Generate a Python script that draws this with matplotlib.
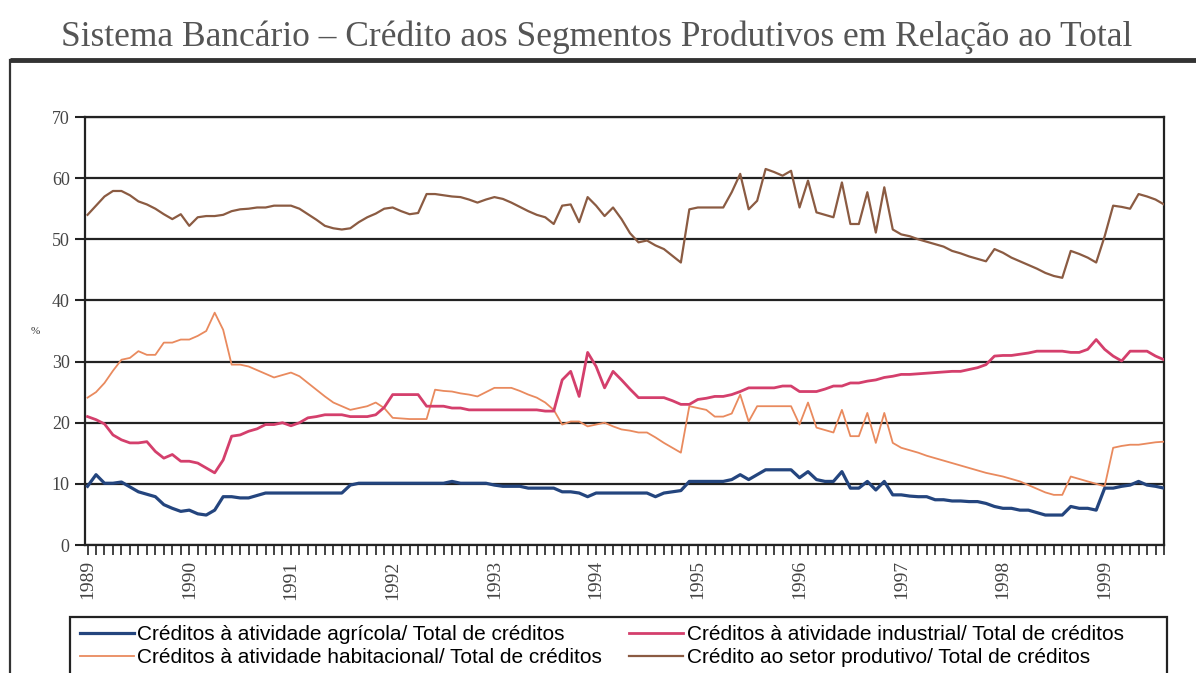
import numpy as np
import matplotlib.pyplot as plt
from matplotlib.lines import Line2D
from matplotlib.patches import Rectangle

agricola = [
    9.6, 11.5, 10.1, 10.1, 10.3, 9.5, 8.7, 8.3, 7.9, 6.6, 6.0, 5.5,
    5.7, 5.1, 4.9, 5.7, 7.9, 7.9, 7.7, 7.7, 8.1, 8.5, 8.5, 8.5,
    8.5, 8.5, 8.5, 8.5, 8.5, 8.5, 8.5, 9.8, 10.1, 10.1, 10.1, 10.1,
    10.1, 10.1, 10.1, 10.1, 10.1, 10.1, 10.1, 10.4, 10.1, 10.1, 10.1, 10.1,
    9.8, 9.6, 9.6, 9.6, 9.3, 9.3, 9.3, 9.3, 8.7, 8.7, 8.5, 7.9,
    8.5, 8.5, 8.5, 8.5, 8.5, 8.5, 8.5, 7.9, 8.5, 8.7, 8.9, 10.4,
    10.4, 10.4, 10.4, 10.4, 10.7, 11.5, 10.7, 11.5, 12.3, 12.3, 12.3, 12.3,
    11.0, 12.0, 10.7, 10.4, 10.4, 12.0, 9.3, 9.3, 10.4, 9.0, 10.4, 8.2,
    8.2, 8.0, 7.9, 7.9, 7.4, 7.4, 7.2, 7.2, 7.1, 7.1, 6.8, 6.3,
    6.0, 6.0, 5.7, 5.7, 5.3, 4.9, 4.9, 4.9, 6.3, 6.0, 6.0, 5.7,
    9.3, 9.3, 9.6, 9.8, 10.4, 9.8, 9.6, 9.3,
]
industrial = [
    21.0, 20.5, 19.8, 18.0, 17.2, 16.7, 16.7, 16.9, 15.3, 14.2, 14.8, 13.7,
    13.7, 13.4, 12.6, 11.8, 13.9, 17.8, 18.0, 18.6, 19.0, 19.7, 19.7, 20.0,
    19.5, 20.0, 20.8, 21.0, 21.3, 21.3, 21.3, 21.0, 21.0, 21.0, 21.3, 22.5,
    24.6, 24.6, 24.6, 24.6, 22.7, 22.7, 22.7, 22.4, 22.4, 22.1, 22.1, 22.1,
    22.1, 22.1, 22.1, 22.1, 22.1, 22.1, 21.9, 21.9, 27.0, 28.4, 24.3, 31.5,
    29.2, 25.7, 28.4, 27.0, 25.5, 24.1, 24.1, 24.1, 24.1, 23.6, 23.0, 23.0,
    23.8, 24.0, 24.3, 24.3, 24.6, 25.1, 25.7, 25.7, 25.7, 25.7, 26.0, 26.0,
    25.1, 25.1, 25.1, 25.5, 26.0, 26.0, 26.5, 26.5, 26.8, 27.0, 27.4, 27.6,
    27.9, 27.9, 28.0, 28.1, 28.2, 28.3, 28.4, 28.4, 28.7, 29.0, 29.5, 30.9,
    31.0, 31.0, 31.2, 31.4, 31.7, 31.7, 31.7, 31.7, 31.5, 31.5, 32.0, 33.6,
    32.0, 30.9, 30.1, 31.7, 31.7, 31.7, 30.9, 30.3,
]
habitacional = [
    24.1, 25.0, 26.5, 28.5, 30.3, 30.6, 31.7, 31.1, 31.1, 33.1, 33.1, 33.6,
    33.6, 34.2, 35.0, 38.0, 35.2, 29.5, 29.5, 29.2, 28.6, 28.0, 27.4, 27.8,
    28.2, 27.6, 26.5, 25.4, 24.3, 23.3, 22.7, 22.1, 22.4, 22.7, 23.3, 22.4,
    20.8, 20.7, 20.6, 20.6, 20.6, 25.4, 25.2, 25.1, 24.8, 24.6, 24.3, 25.0,
    25.7, 25.7, 25.7, 25.2, 24.6, 24.1, 23.3, 22.1, 19.7, 20.2, 20.2, 19.4,
    19.7, 20.0, 19.4, 18.9, 18.7, 18.4, 18.4, 17.6, 16.7, 15.9, 15.1, 22.7,
    22.4, 22.1, 21.0, 21.0, 21.5, 24.6, 20.2, 22.7, 22.7, 22.7, 22.7, 22.7,
    19.7, 23.3, 19.2, 18.8, 18.4, 22.1, 17.8, 17.8, 21.6, 16.7, 21.6, 16.7,
    15.9, 15.5, 15.1, 14.6, 14.2, 13.8, 13.4, 13.0, 12.6, 12.2, 11.8, 11.5,
    11.2, 10.8, 10.4, 9.8, 9.2, 8.6, 8.2, 8.2, 11.2, 10.8, 10.4, 10.0,
    9.6, 15.9, 16.2, 16.4, 16.4, 16.6, 16.8, 16.9,
]
produtivo = [
    54.0, 55.5, 57.0, 57.9, 57.9, 57.2, 56.2, 55.7, 55.0, 54.1, 53.3, 54.1,
    52.2, 53.6, 53.8, 53.8, 54.0, 54.6, 54.9, 55.0, 55.2, 55.2, 55.5, 55.5,
    55.5, 55.0, 54.1, 53.2, 52.2, 51.8, 51.6, 51.8, 52.8, 53.6, 54.2, 55.0,
    55.2, 54.6, 54.1, 54.3, 57.4, 57.4, 57.2, 57.0, 56.9, 56.5, 56.0, 56.5,
    56.9, 56.6, 56.0, 55.3, 54.6, 54.0, 53.6, 52.5, 55.5, 55.7, 52.8, 56.9,
    55.5, 53.8, 55.2, 53.3, 51.0, 49.5, 49.8, 49.0, 48.4, 47.3, 46.2, 54.9,
    55.2, 55.2, 55.2, 55.2, 57.7, 60.7, 54.9, 56.3, 61.5, 61.0, 60.4, 61.2,
    55.2, 59.6, 54.4, 54.0, 53.6, 59.3, 52.5, 52.5, 57.7, 51.1, 58.5, 51.6,
    50.8, 50.5, 50.0, 49.6, 49.2, 48.8, 48.1, 47.7, 47.2, 46.8, 46.4, 48.4,
    47.8, 47.0, 46.4, 45.8, 45.2, 44.5, 44.0, 43.7, 48.1, 47.6, 47.0, 46.2,
    50.5, 55.5, 55.3, 55.0, 57.4, 57.0, 56.5, 55.7,
]
year_labels = ['1989', '1990', '1991', '1992', '1993', '1994',
               '1995', '1996', '1997', '1998', '1999']
series_labels = [
    'Créditos à atividade agrícola/ Total de créditos',
    'Créditos à atividade habitacional/ Total de créditos',
    'Créditos à atividade industrial/ Total de créditos',
    'Crédito ao setor produtivo/ Total de créditos',
]

W, H = 1196, 673
fig = plt.figure(figsize=(W / 100, H / 100), dpi=100)
ax = fig.add_axes([85 / W, 1 - 545 / H, (1164 - 85) / W, (545 - 117) / H])

months = np.arange(len(produtivo))

# ─── Series ───
ax.plot(months, agricola, color='#24457e', lw=2.3, zorder=4)
ax.plot(months, habitacional, color='#e98a5e', lw=1.3, zorder=3)
ax.plot(months, industrial, color='#d43f6c', lw=2.0, zorder=4)
ax.plot(months, produtivo, color='#8b5b42', lw=1.6, zorder=3)

# ─── Axes styling ───
ax.set_ylim(0, 70)
ax.set_xlim(-0.3, len(produtivo) - 1)
ax.set_yticks(np.arange(0, 71, 10))
ax.set_yticklabels([str(v) for v in range(0, 71, 10)],
                   family='Liberation Serif', fontsize=13, color='#444')
ax.yaxis.grid(True, color='#222', lw=1.6)
ax.set_axisbelow(True)

ax.set_xticks(np.arange(0, len(produtivo), 12))
ax.set_xticklabels(year_labels, rotation=90, family='Liberation Serif',
                   fontsize=14, color='#444')
ax.set_xticks(months, minor=True)
ax.tick_params(axis='x', which='both', direction='out', length=7,
               width=1.2, color='#222', pad=4)
ax.tick_params(axis='y', direction='out', length=7, width=1.5,
               color='#222', pad=4)

for side in ['left', 'right', 'top', 'bottom']:
    ax.spines[side].set_linewidth(1.6)
    ax.spines[side].set_color('#222')

fig.text(35 / W, 1 - 332 / H, '%', fontsize=8, color='#333',
         ha='center', va='center', family='Liberation Serif')

# ─── Title and outer frame ───
fig.text(597 / W, 1 - 37 / H,
         'Sistema Bancário – Crédito aos Segmentos Produtivos em Relação ao Total',
         ha='center', va='center', fontsize=25.5, color='#555',
         family='Liberation Serif')
fig.add_artist(Line2D([10 / W, 1], [1 - 60 / H, 1 - 60 / H],
                      color='#333', lw=3.5, solid_capstyle='butt'))
fig.add_artist(Line2D([10 / W, 10 / W], [1 - 60 / H, 0],
                      color='#333', lw=1.6))

# ─── Legend (box runs off the bottom edge, as in the scan) ───
fig.add_artist(Rectangle((70 / W, -0.02), (1167 - 70) / W,
                         (673 - 617) / H + 0.02, transform=fig.transFigure,
                         fill=False, edgecolor='#222', lw=1.6))
handles = [Line2D([], [], color='#24457e', lw=2.3),
           Line2D([], [], color='#e98a5e', lw=1.3),
           Line2D([], [], color='#d43f6c', lw=2.0),
           Line2D([], [], color='#8b5b42', lw=1.6)]
fig.legend(handles, series_labels, ncol=2, loc='upper left',
           bbox_to_anchor=(80 / W, 1 - 625 / H), frameon=False,
           prop={'family': 'Liberation Sans', 'size': 15},
           handlelength=2.6, handletextpad=0.15, columnspacing=1.3,
           labelspacing=0.2, borderpad=0, borderaxespad=0)

fig.savefig('out.png', dpi=100)
